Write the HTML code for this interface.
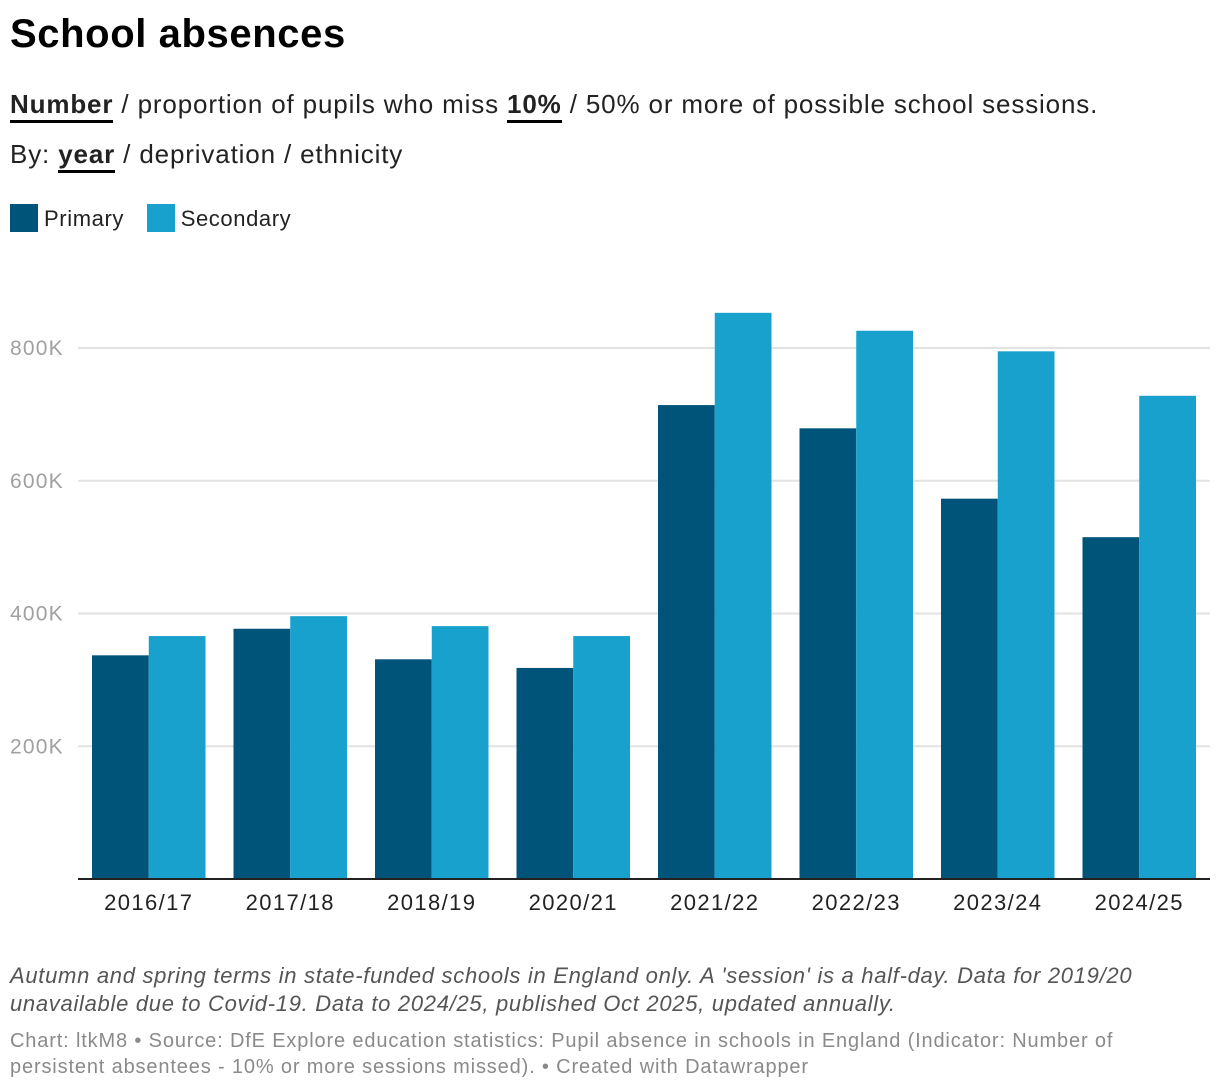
<!DOCTYPE html>
<html><head><meta charset="utf-8"><style>
body{margin:0;width:1220px;height:1092px;background:#fff;font-family:"Liberation Sans",sans-serif;color:#181818;position:relative;overflow:hidden}
.abs{position:absolute;white-space:nowrap}
.u{border-bottom:3px solid #000;font-weight:bold;padding-bottom:1px}
</style></head><body>
<div class="abs" style="left:10px;top:12px;font-size:40px;font-weight:bold;color:#000;letter-spacing:0.6px">School absences</div>
<div class="abs" style="left:10px;top:89px;font-size:26px;color:#222;letter-spacing:0.85px"><span class="u">Number</span> / <span>proportion</span> of pupils who miss <span class="u">10%</span> / <span>50%</span> or more of possible school sessions.</div>
<div class="abs" style="left:10px;top:139px;font-size:26px;color:#222;letter-spacing:0.85px">By: <span class="u">year</span> / <span>deprivation</span> / <span>ethnicity</span></div>
<div class="abs" style="left:10px;top:204px;font-size:22px;color:#222;letter-spacing:0.6px">
<span><span style="display:inline-block;width:28px;height:28px;background:#00547a;vertical-align:-6px;margin-right:6px"></span>Primary</span>
<span style="margin-left:16px"><span style="display:inline-block;width:28px;height:28px;background:#18a1cd;vertical-align:-6px;margin-right:6px"></span>Secondary</span></div>
<svg id="chart" width="1220" height="940" style="position:absolute;left:0;top:0"></svg>
<div class="abs" style="left:10px;top:962px;font-size:22px;font-style:italic;color:#555;line-height:28px;letter-spacing:0.7px">Autumn and spring terms in state-funded schools in England only. A 'session' is a half-day. Data for 2019/20<br>unavailable due to Covid-19. Data to 2024/25, published Oct 2025, updated annually.</div>
<div class="abs" style="left:10px;top:1028px;font-size:20px;color:#8a8a8a;line-height:26px;letter-spacing:0.85px">Chart: ltkM8 • Source: DfE Explore education statistics: Pupil absence in schools in England (Indicator: Number of<br>persistent absentees - 10% or more sessions missed). • Created with Datawrapper</div>
<script>
const categories=["2016/17","2017/18","2018/19","2020/21","2021/22","2022/23","2023/24","2024/25"];
const primary=[337,377,331,318,714,679,573,515];
const secondary=[366,396,381,366,853,826,795,728];
const yTicks=[200,400,600,800];
const svg=document.getElementById('chart');const NS='http://www.w3.org/2000/svg';
const x0=78,x1=1210,yBase=879,yPer=132.75/200;
const y=v=>yBase-v*yPer;
const step=(x1-x0)/categories.length,pad=14,bw=(step-2*pad)/2;
function mk(t,a){const e=document.createElementNS(NS,t);for(const k in a)e.setAttribute(k,a[k]);svg.appendChild(e);return e;}
yTicks.forEach(t=>{
const l=mk('line',{x1:x0,x2:x1,y1:y(t),y2:y(t),stroke:'#e2e2e2','stroke-width':2});


const tx=mk('text',{x:10,y:y(t)+7,'font-size':21,fill:'#a0a0a0','letter-spacing':'1.2','font-family':'Liberation Sans, sans-serif'});tx.textContent=t+'K';


});
categories.forEach((c,i)=>{
const gx=x0+i*step+pad;
const b1=mk('rect',{x:gx,y:y(primary[i]),width:bw,height:primary[i]*yPer,fill:'#00547a'});


const b2=mk('rect',{x:gx+bw,y:y(secondary[i]),width:bw,height:secondary[i]*yPer,fill:'#18a1cd'});


const tx=mk('text',{x:gx+bw,y:910,'font-size':22,fill:'#222','text-anchor':'middle','letter-spacing':'1.4','font-family':'Liberation Sans, sans-serif'});tx.textContent=c;


});
const ax=mk('line',{x1:x0,x2:x1,y1:yBase,y2:yBase,stroke:'#222','stroke-width':2});


</script>
</body></html>
